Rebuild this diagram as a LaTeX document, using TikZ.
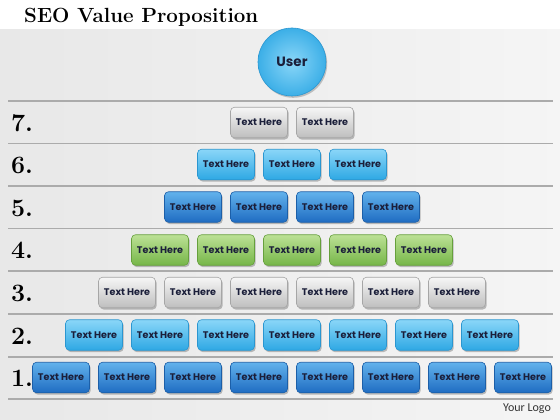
\documentclass[tikz,border=0pt]{standalone}
\usepackage{fontspec}
\newfontfamily\boxfont{Poppins}
\newfontfamily\logofont{Carlito}
\usetikzlibrary{shadows}
\definecolor{txt}{HTML}{1B1F3A}
\definecolor{dbTop}{HTML}{62B2EC}
\definecolor{dbBot}{HTML}{1F6CC2}
\definecolor{dbDraw}{HTML}{1C5FA8}
\definecolor{lbTop}{HTML}{8AD6F8}
\definecolor{lbBot}{HTML}{2EA8E4}
\definecolor{lbDraw}{HTML}{2A96D0}
\definecolor{gyTop}{HTML}{F6F6F6}
\definecolor{gyBot}{HTML}{BEBEBE}
\definecolor{gyDraw}{HTML}{A6A6A6}
\definecolor{grTop}{HTML}{BCE196}
\definecolor{grBot}{HTML}{76B648}
\definecolor{grDraw}{HTML}{66A03C}
\definecolor{lineC}{HTML}{ABABAB}
\tikzset{
  boxbase/.style={rounded corners=4pt, minimum width=57pt, minimum height=30.5pt,
    line width=0.6pt, inner sep=1pt,
    font=\boxfont\bfseries\fontsize{9.6}{10}\selectfont, text=txt,
    drop shadow={shadow xshift=1.2pt, shadow yshift=-1.8pt, opacity=0.35, fill=black!70}},
  dblue/.style={boxbase, draw=dbDraw, top color=dbTop, bottom color=dbBot},
  lblue/.style={boxbase, draw=lbDraw, top color=lbTop, bottom color=lbBot},
  gbox/.style={boxbase, draw=gyDraw, top color=gyTop, bottom color=gyBot},
  grbox/.style={boxbase, draw=grDraw, top color=grTop, bottom color=grBot},
  rowline/.style={draw=lineC, line width=1.6pt},
  numlab/.style={font=\bfseries\fontsize{25}{28}\selectfont, text=black, inner sep=0pt}
}
\begin{document}
\begin{tikzpicture}[x=1pt,y=-1pt]
\useasboundingbox (0,0) rectangle (560,420);
\fill[white] (0,0) rectangle (560,30);
\shade[left color=black!9, right color=black!4] (0,30) rectangle (560,420);
% title
\node[anchor=west, inner sep=0pt, font=\bfseries\fontsize{20.5}{23}\selectfont] (title) at (24,17) {SEO Value Proposition};
% user circle
\node[circle, minimum size=68pt, draw=lbDraw, line width=0.6pt, inner color=lbTop, outer color=lbBot!85!lbTop,
  font=\boxfont\bfseries\fontsize{13.5}{15}\selectfont, text=txt,
  drop shadow={shadow xshift=1.2pt, shadow yshift=-1.8pt, opacity=0.3, fill=black!70}] (user) at (292,62) {User};
% row lines
\foreach \yy/\nm in {101/l0,143.5/l1,186/l2,228.5/l3,271/l4,314/l5,357/l6,399/l7}{
  \coordinate (\nm a) at (8,\yy);
  \coordinate (\nm b) at (553,\yy);
  \draw[rowline] (\nm a) -- (\nm b);
}
% numbers
\node[numlab] (n7) at (22,123) {7.};
\node[numlab] (n6) at (22,165.5) {6.};
\node[numlab] (n5) at (22,208) {5.};
\node[numlab] (n4) at (22,250.5) {4.};
\node[numlab] (n3) at (22,293) {3.};
\node[numlab] (n2) at (22,336) {2.};
\node[numlab] (n1) at (22,378.5) {1.};
% row 7
\foreach \i/\x in {1/259,2/325}{\node[gbox] (r7b\i) at (\x,122.5) {Text Here};}
% row 6
\foreach \i/\x in {1/226,2/292,3/358}{\node[lblue] (r6b\i) at (\x,164.5) {Text Here};}
% row 5
\foreach \i/\x in {1/193,2/259,3/325,4/391}{\node[dblue] (r5b\i) at (\x,207) {Text Here};}
% row 4
\foreach \i/\x in {1/160,2/226,3/292,4/358,5/424}{\node[grbox] (r4b\i) at (\x,250) {Text Here};}
% row 3
\foreach \i/\x in {1/127,2/193,3/259,4/325,5/391,6/457}{\node[gbox] (r3b\i) at (\x,292.5) {Text Here};}
% row 2
\foreach \i/\x in {1/94,2/160,3/226,4/292,5/358,6/424,7/490}{\node[lblue] (r2b\i) at (\x,335) {Text Here};}
% row 1
\foreach \i/\x in {1/61,2/127,3/193,4/259,5/325,6/391,7/457,8/523}{\node[dblue] (r1b\i) at (\x,377.5) {Text Here};}
% logo
\node[font=\logofont\fontsize{12}{14}\selectfont, text=black!80, inner sep=0pt] (logo) at (527,408.5) {Your Logo};
\end{tikzpicture}
\end{document}
